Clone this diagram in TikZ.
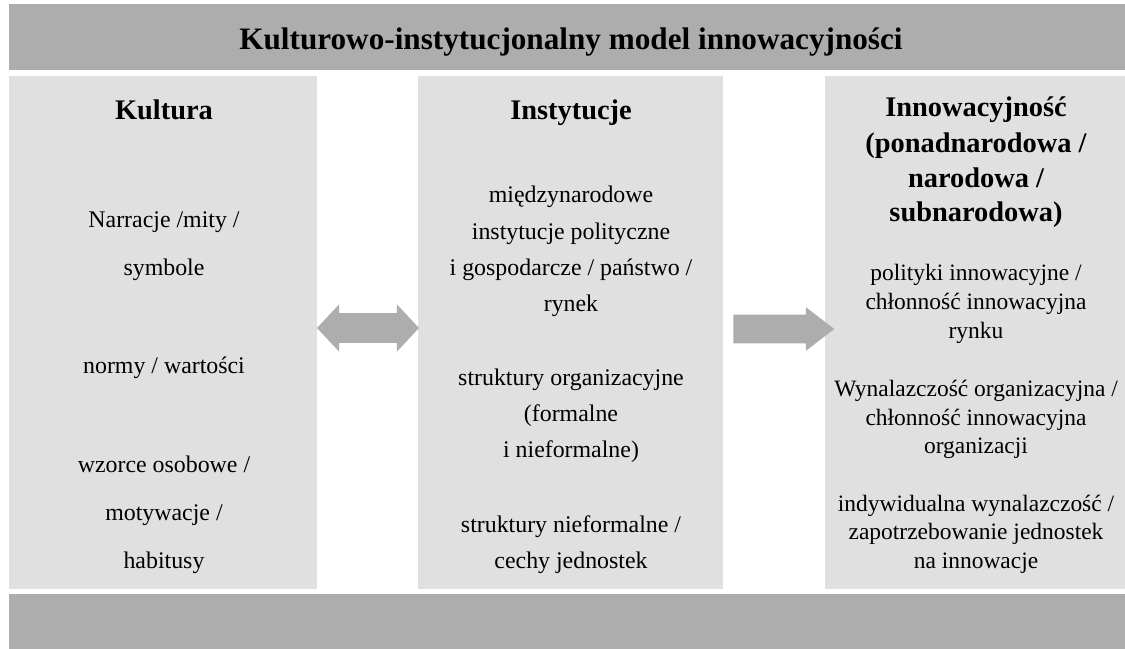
\documentclass[tikz,border=0pt]{standalone}
\usepackage{fontspec}
\setmainfont{Liberation Serif}
\usetikzlibrary{shapes.arrows}
\definecolor{bargray}{HTML}{ADADAD}
\definecolor{colgray}{HTML}{E0E0E0}
\begin{document}
\begin{tikzpicture}[x=0.75pt, y=-0.75pt,
  bar/.style={fill=bargray, inner sep=0pt, minimum width=837pt},
  colbox/.style={fill=colgray, inner sep=0pt, minimum height=384.75pt},
  titletext/.style={anchor=base, font=\fontsize{23.4}{28}\selectfont\bfseries},
  headtext/.style={anchor=base, font=\fontsize{21.3}{26}\selectfont\bfseries},
  bodytext/.style={anchor=base, font=\fontsize{17.9}{22}\selectfont},
  smalltext/.style={anchor=base, font=\fontsize{17.6}{21}\selectfont},
  blockarrow/.style={fill=bargray, inner xsep=0pt}]
\useasboundingbox (0,0) rectangle (1125,649);
% bars
\node[bar, minimum height=49.5pt] (topbar) at (567,37) {};
\node[bar, minimum height=41.25pt] (bottombar) at (567,621.5) {};
\node[titletext] (title) at (571,50) {Kulturowo-instytucjonalny model innowacyjności};
% columns
\node[colbox, minimum width=231pt] (kultura) at (163,332.5) {};
\node[colbox, minimum width=228.75pt] (instytucje) at (570.5,332.5) {};
\node[colbox, minimum width=225pt] (innowacje) at (975,332.5) {};
% arrows
\node[blockarrow, double arrow, inner ysep=10.875pt, double arrow head extend=6.75pt,
  double arrow tip angle=93.8, minimum height=76.5pt] (both) at (368,328) {};
\node[blockarrow, single arrow, inner ysep=10.5pt, single arrow head extend=5.625pt,
  single arrow tip angle=75, minimum height=75.75pt] (toinno) at (774.5,329) {};
% Kultura
\node[headtext] (kulH) at (164,120) {Kultura};
\node[bodytext] (kul1) at (164,228) {Narracje /mity /};
\node[bodytext] (kul2) at (164,276) {symbole};
\node[bodytext] (kul3) at (164,373) {normy / wartości};
\node[bodytext] (kul4) at (164,472) {wzorce osobowe /};
\node[bodytext] (kul5) at (164,520) {motywacje /};
\node[bodytext] (kul6) at (164,568) {habitusy};
% Instytucje
\node[headtext] (insH) at (571,120) {Instytucje};
\node[bodytext] (ins1) at (571,203) {międzynarodowe};
\node[bodytext] (ins2) at (571,239) {instytucje polityczne};
\node[bodytext] (ins3) at (571,275) {i gospodarcze / państwo /};
\node[bodytext] (ins4) at (571,311) {rynek};
\node[bodytext] (ins5) at (571,385) {struktury organizacyjne};
\node[bodytext] (ins6) at (571,421) {(formalne};
\node[bodytext] (ins7) at (571,457) {i nieformalne)};
\node[bodytext] (ins8) at (571,532) {struktury nieformalne /};
\node[bodytext] (ins9) at (571,568) {cechy jednostek};
% Innowacyjnosc
\node[headtext] (innH1) at (976,117) {Innowacyjność};
\node[headtext] (innH2) at (976,153) {(ponadnarodowa /};
\node[headtext] (innH3) at (976,187.5) {narodowa /};
\node[headtext] (innH4) at (976,222) {subnarodowa)};
\node[smalltext] (inn1) at (976,281) {polityki innowacyjne /};
\node[smalltext] (inn2) at (976,310) {chłonność innowacyjna};
\node[smalltext] (inn3) at (976,338.5) {rynku};
\node[smalltext] (inn4) at (976,396) {Wynalazczość organizacyjna /};
\node[smalltext] (inn5) at (976,425) {chłonność innowacyjna};
\node[smalltext] (inn6) at (976,453.5) {organizacji};
\node[smalltext] (inn7) at (976,511) {indywidualna wynalazczość /};
\node[smalltext] (inn8) at (976,539.5) {zapotrzebowanie jednostek};
\node[smalltext] (inn9) at (976,568) {na innowacje};
\end{tikzpicture}
\end{document}
